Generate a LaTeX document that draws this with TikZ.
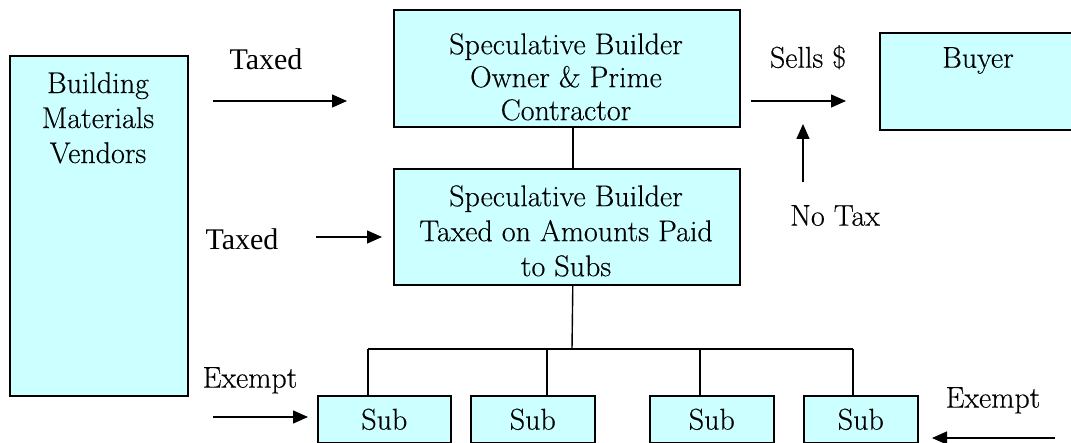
\documentclass[tikz,border=0pt]{standalone}
\usepackage{fontspec}
\newfontfamily\timesfont{Liberation Serif}
\newfontfamily\boxfont{Latin Modern Roman}[FakeBold=0.3]
\usetikzlibrary{arrows.meta}
\definecolor{boxcyan}{HTML}{CCFFFF}
\begin{document}
\begin{tikzpicture}[x=1pt,y=-1pt,
  box/.style={draw=black, line width=1.6pt, fill=boxcyan, inner sep=0pt, anchor=north west,
              font=\boxfont\fontsize{30}{35}\selectfont},
  txt/.style={inner sep=0pt, align=center, anchor=north, font=\boxfont\fontsize{30}{35}\selectfont},
  tighttxt/.style={txt, font=\boxfont\fontsize{30}{33}\selectfont},
  ttxt/.style={inner sep=0pt, anchor=north, font=\timesfont\fontsize{30}{34}\selectfont},
  link/.style={line width=1.4pt},
  flow/.style={line width=1.4pt, -{Triangle[length=15pt,width=13pt]}}]
\useasboundingbox (0,0) rectangle (1071,443);

% boxes
\node[box, minimum width=178pt, minimum height=340pt] (vendors) at (9,55) {};
\node[box, minimum width=346pt, minimum height=117pt] (prime) at (393,9) {};
\node[box, minimum width=346pt, minimum height=116pt] (spec) at (393,168) {};
\node[box, minimum width=196pt, minimum height=97pt] (buyer) at (879,32) {};
\node[box, minimum width=133pt, minimum height=47pt] (sub1) at (317,395) {Sub};
\node[box, minimum width=124pt, minimum height=47pt] (sub2) at (470,395) {Sub};
\node[box, minimum width=124pt, minimum height=47pt] (sub3) at (649,395) {Sub};
\node[box, minimum width=114pt, minimum height=47pt] (sub4) at (803,395) {Sub};

% box texts
\node[txt] (vendorsT) at (98,72) {Building\\Materials\\Vendors};
\node[tighttxt] (primeT) at (566,33) {Speculative Builder\\Owner \& Prime\\Contractor};
\node[txt] (specT) at (566,185) {Speculative Builder\\Taxed on Amounts Paid\\to Subs};
\node[txt] (buyerT) at (978,47) {Buyer};

% hierarchy lines
\coordinate (bus) at (572,349);
\coordinate (d1) at (368,349);
\coordinate (d2) at (547,349);
\coordinate (d3) at (700,349);
\coordinate (d4) at (853,349);
\draw[link] ([xshift=6pt]prime.south) -- ([xshift=6pt]spec.north);
\draw[link] ([xshift=6pt]spec.south) -- (bus);
\draw[link] (d1) -- (d4);
\draw[link] (d1) -- (d1 |- sub1.north);
\draw[link] (d2) -- (d2 |- sub2.north);
\draw[link] (d3) -- (d3 |- sub3.north);
\draw[link] (d4) -- (d4 |- sub4.north);

% flow arrows
\coordinate (a1s) at (213,101); \coordinate (a1e) at (347,101);
\coordinate (a2s) at (316,237); \coordinate (a2e) at (382,237);
\coordinate (a3s) at (751,101); \coordinate (a3e) at (846,101);
\coordinate (a4s) at (803,182); \coordinate (a4e) at (803,124);
\coordinate (a5s) at (213,417); \coordinate (a5e) at (308,417);
\coordinate (a6s) at (1055,438); \coordinate (a6e) at (932,438);
\draw[flow] (a1s) -- (a1e);
\draw[flow] (a2s) -- (a2e);
\draw[flow] (a3s) -- (a3e);
\draw[flow] (a4s) -- (a4e);
\draw[flow] (a5s) -- (a5e);
\draw[flow] (a6s) -- (a6e);

% flow labels
\node[ttxt] (taxed1) at (266,48) {Taxed};
\node[ttxt] (taxed2) at (242,228) {Taxed};
\node[txt] (sells) at (808,45) {Sells \$};
\node[txt] (notax) at (835,205) {No Tax};
\node[txt] (exempt1) at (250,367) {Exempt};
\node[txt] (exempt2) at (993,387) {Exempt};
\end{tikzpicture}
\end{document}
